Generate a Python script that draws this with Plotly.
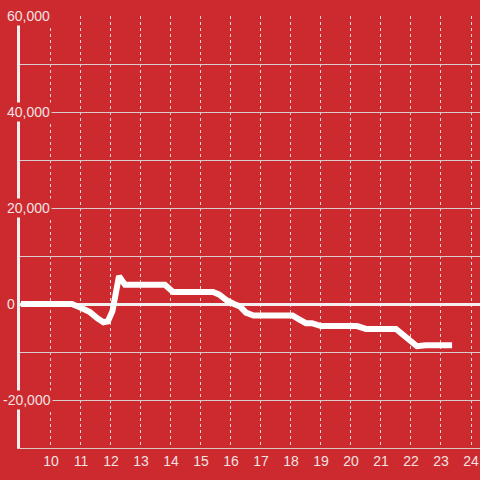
import plotly.graph_objects as go

x_vals = [9.0, 10.0, 10.7, 11.0, 11.3, 11.55, 11.75, 11.9, 12.05, 12.27, 12.47, 13.0, 13.8,
          14.07, 15.0, 15.4, 15.6, 15.85, 16.1, 16.3, 16.5, 16.75, 17.5, 18.05, 18.3, 18.5,
          18.7, 19.0, 20.2, 20.5, 21.5, 21.7, 21.95, 22.2, 22.5, 23.37]
y_vals = [0, 0, 0, -800, -1700, -3000, -3800, -3600, -1500, 5800, 4000, 4000, 4000,
          2500, 2500, 2500, 2000, 800, 0, -500, -1800, -2400, -2400, -2400, -3300, -4000,
          -4000, -4600, -4600, -5200, -5200, -6200, -7800, -8800, -8600, -8600]

x_ticks = list(range(10, 25))
y_label_vals = [60000, 40000, 20000, 0, -20000]
y_label_text = ["60,000", "40,000", "20,000", "0", "-20,000"]

BG = "#cc2a2f"
TXT = "#f3e2e2"

fig = go.Figure()
fig.add_trace(go.Scatter(x=x_vals, y=y_vals, mode="lines",
                         line=dict(color="white", width=6), hoverinfo="skip"))

annotations = []
for v, t in zip(y_label_vals, y_label_text):
    annotations.append(dict(
        x=0, xref="paper", y=v, yref="y", text=t, showarrow=False,
        xanchor="left", yanchor="middle", xshift=-15 if not t.startswith("-") else -19,
        font=dict(family="Liberation Sans, Arial, sans-serif", size=14, color=TXT),
        bgcolor=BG, borderpad=1,
    ))

fig.update_layout(
    width=480, height=480,
    margin=dict(l=20, r=0, t=16, b=32, autoexpand=False),
    paper_bgcolor=BG, plot_bgcolor=BG,
    showlegend=False,
    font=dict(family="Liberation Sans, Arial, sans-serif", size=14, color=TXT),
    annotations=annotations,
    xaxis=dict(
        range=[8.97, 24.3], tickvals=x_ticks, showgrid=True, automargin=False,
        gridcolor="#e8d6d6", griddash="dot", gridwidth=1,
        showline=True, linecolor="#d8c8c8", linewidth=1,
        zeroline=False, ticks="", tickfont=dict(size=14, color=TXT),
    ),
    yaxis=dict(
        range=[-30000, 60000], dtick=10000, showticklabels=False, automargin=False,
        showgrid=True, gridcolor="#d9cccc", gridwidth=1,
        zeroline=True, zerolinecolor="#f4eeee", zerolinewidth=3,
        showline=True, linecolor="#f4eeee", linewidth=3, ticks="",
    ),
)

fig.write_html("out.html", config={"displayModeBar": False},
               post_script="document.body.style.margin='0';document.body.style.overflow='hidden';")
